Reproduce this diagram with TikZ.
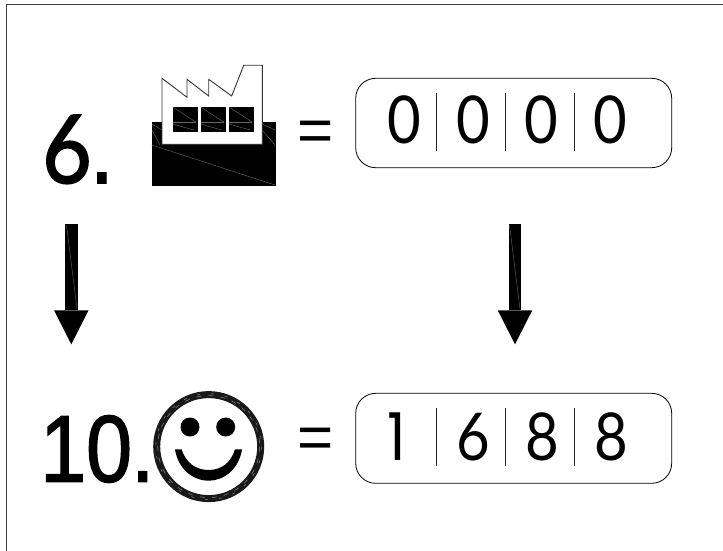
\documentclass[tikz,border=0pt]{standalone}
\usepackage{fontspec}
\setmainfont{Lato}
\newfontfamily\arialish{Liberation Sans}
\newfontfamily\arialbold[FakeBold=1.6]{Liberation Sans}
\newfontfamily\latobold[FakeBold=1.8]{Lato}
\newfontfamily\oneface{Poppins}
\usetikzlibrary{arrows.meta}
\tikzset{
  frameline/.style={line width=1.2pt,draw=black!75},
  solidblack/.style={fill=black,draw=black,line width=0.4pt},
  hair/.style={draw=black!60,line width=0.4pt},
  roundbox/.style={draw=black,line width=0.8pt,rounded corners=20pt,minimum width=316pt,inner sep=0pt},
  sepline/.style={draw=black!85,line width=0.8pt},
  digit/.style={inner sep=0pt,anchor=base,font=\fontsize{66}{66}\selectfont,xscale=0.88},
  big/.style={inner sep=0pt,anchor=base west,font=\fontsize{95}{95}\selectfont},
  eqsign/.style={inner sep=0pt,anchor=base,font=\arialish\fontsize{62}{62}\selectfont},
  bigarrow/.style={line width=12.8pt,draw=black,-{Triangle[length=34pt,width=34.5pt,line width=0pt,fill=black]}}
}
\begin{document}
\begin{tikzpicture}[x=1pt,y=-1pt]
\useasboundingbox (0,0) rectangle (723,551);
\fill[white] (0,0) rectangle (723,551);
\draw[frameline] (723,4.5) -- (6.5,4.5) -- (6.5,551);
% factory
\fill[solidblack] (151.7,122) rectangle (275,185);
\draw[hair] (151.7,145) -- (275,185);
\draw[hair] (152,124) -- (162,130) (152,130) -- (160,145) (262,124) -- (275,130) (262,130) -- (275,145);
\draw[draw=black!80,fill=white,line width=0.9pt] (162,78.3) -- (187,97.3) -- (187,79.3) -- (208.7,96) -- (208.7,79.3) -- (231.7,96) -- (243.7,65.3) -- (262.3,65.3) -- (262.3,144.3) -- (162,144.3) -- cycle;
\foreach \wx in {172.7,200.7,229}{
  \fill[solidblack] (\wx,107) rectangle +(24,24);
  \draw[hair] (\wx,107) -- +(23,15);
  \draw[draw=black!60,line width=1pt] (\wx,122.5) -- +(23,0);
  \draw[hair] (\wx,124) -- +(21,6);
}
% labels
\node[big,xscale=0.9] (six) at (42,183) {\latobold 6\arialbold\hspace{-0.02em}.};
\node[big,xscale=0.87] (ten) at (40,481.7) {\arialbold 10\hspace{-0.01em}.};
% equals
\node[eqsign] (eqa) at (315.5,151.4) {=};
\node[eqsign] (eqb) at (315.5,458.4) {=};
% smiley
\draw[draw=black!90,line width=7pt] (208.7,446.6) circle (52);
\draw[draw=black!45,line width=0.5pt,dash pattern=on 5pt off 7pt] (208.7,446.6) circle (51);
\draw[draw=black!45,line width=0.5pt,dash pattern=on 3pt off 11pt] (208.7,446.6) circle (53);
\fill (190,427) circle (9.5);
\fill (225.7,427) circle (9.5);
\fill (175,449.3) .. controls (178,469) and (193,480.7) .. (208.7,480.7) .. controls (224,480.7) and (239,469) .. (242,449.3) -- (235,449.3) .. controls (231,463) and (221,470) .. (208.7,470) .. controls (196,470) and (186,463) .. (181.5,449.3) -- cycle;
% boxes
\node[roundbox,minimum height=89.4pt] (boxa) at (513.7,123) {};
\node[roundbox,minimum height=90pt] (boxb) at (513.7,438.3) {};
\foreach \sx in {436.7,505.3,574}{
  \draw[sepline] (\sx,93.3) -- (\sx,150.7);
  \draw[sepline] (\sx,408.3) -- (\sx,466);
}
\node[digit] (a1) at (404.7,143) {0};
\node[digit] (a2) at (473.3,143) {0};
\node[digit] (a3) at (541.7,143) {0};
\node[digit] (a4) at (610.5,143) {0};
\node[digit] (b1) at (397,460) {\oneface 1};
\node[digit] (b2) at (473.3,460) {6};
\node[digit] (b3) at (542.5,460) {8};
\node[digit] (b4) at (611,460) {8};
% arrows
\coordinate (la) at (71.3,224.3);
\coordinate (lb) at (71.3,344.3);
\coordinate (ra) at (515,224.3);
\coordinate (rb) at (515,344.3);
\draw[bigarrow] (la) -- (lb);
\draw[bigarrow] (ra) -- (rb);
\draw[hair] (66.5,225) -- (77,309);
\draw[hair] (509.5,225) -- (520,309);
\end{tikzpicture}
\end{document}
